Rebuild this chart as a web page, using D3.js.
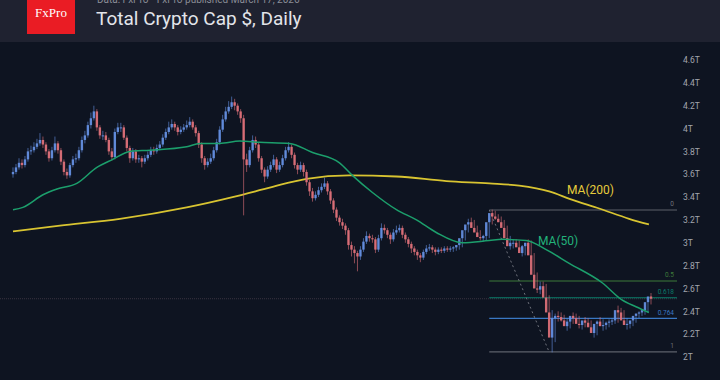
<!DOCTYPE html>
<html><head><meta charset="utf-8">
<script src="https://cdn.jsdelivr.net/npm/d3@7"></script>
<style>html,body{margin:0;padding:0;background:#0e1421;}svg{display:block;}</style>
</head><body><svg id="c" width="720" height="380"></svg>
<script>
// ---- data (T = trillion USD) ----
const firstOpen = 3.60;
const closes = [
3.62,3.66,3.70,3.68,3.73,3.80,3.81,3.84,3.87,3.90,3.86,3.80,3.74,3.81,3.87,3.81,3.71,3.62,3.59,3.68,3.73,3.74,3.81,3.90,3.94,4.03,4.09,4.15,4.01,3.94,3.94,3.90,3.80,3.75,3.97,4.01,
4.01,3.92,3.83,3.74,3.80,3.73,3.74,3.71,3.74,3.77,3.81,3.80,3.83,3.86,3.92,3.97,4.01,4.04,4.01,3.97,3.99,4.01,4.03,4.06,4.01,3.96,3.86,3.74,3.68,3.71,3.74,3.81,3.88,3.99,4.08,4.15,4.19,4.23,4.20,4.15,
4.09,3.73,3.68,3.81,3.90,3.86,3.74,3.64,3.58,3.64,3.68,3.73,3.64,3.68,3.74,3.81,3.84,3.77,3.68,3.64,3.68,3.62,3.53,3.45,3.39,3.42,3.46,3.49,3.52,3.45,3.37,3.29,3.22,3.18,3.15,3.11,2.98,
2.94,2.91,2.88,2.94,3.01,3.06,3.04,3.03,2.94,3.04,3.13,3.11,3.07,3.03,3.09,3.11,3.13,3.07,3.03,2.99,2.95,2.92,2.89,2.87,2.92,2.95,2.96,2.94,2.92,2.94,2.93,2.95,2.94,2.95,2.96,2.98,3.04,3.11,3.16,3.18,3.13,3.09,3.05,3.04,3.06,3.18,3.26,
3.23,3.21,3.18,3.13,3.04,2.97,3.00,3.00,2.96,2.91,2.97,3.00,2.89,2.72,2.60,2.59,2.62,2.52,2.39,2.17,2.34,2.36,2.35,2.32,2.27,2.31,2.36,2.34,2.29,2.28,2.32,2.30,2.26,2.21,2.29,2.31,2.27,2.28,2.30,2.31,2.32,2.41,2.39,2.32,2.28,2.29,2.32,2.36,2.38,2.39,2.41,2.48,2.53,2.51];
const highs = [
3.66,3.69,3.74,3.73,3.76,3.83,3.85,3.88,3.91,3.96,3.93,3.88,3.82,3.84,3.93,3.89,3.83,3.73,3.65,3.70,3.76,3.78,3.84,3.93,3.98,4.06,4.14,4.20,4.17,4.03,3.98,3.97,3.92,3.83,4.00,4.05,
4.05,4.03,3.94,3.85,3.83,3.82,3.77,3.76,3.77,3.80,3.84,3.84,3.86,3.89,3.95,4.00,4.06,4.08,4.06,4.03,4.02,4.04,4.07,4.10,4.08,4.03,3.98,3.88,3.76,3.74,3.78,3.84,3.91,4.02,4.12,4.19,4.24,4.28,4.26,4.22,
4.17,4.12,3.78,3.84,3.94,3.93,3.88,3.76,3.66,3.67,3.71,3.77,3.75,3.71,3.77,3.84,3.88,3.86,3.79,3.70,3.71,3.70,3.64,3.55,3.48,3.45,3.49,3.52,3.57,3.54,3.47,3.39,3.31,3.24,3.21,3.17,3.13,
3.01,2.97,2.93,2.97,3.04,3.10,3.08,3.07,3.05,3.07,3.17,3.16,3.13,3.09,3.12,3.15,3.16,3.15,3.09,3.05,3.01,2.97,2.94,2.91,2.94,2.98,2.99,2.98,2.96,2.96,2.96,2.97,2.97,2.97,2.97,2.98,3.01,3.07,3.14,3.21,3.22,3.20,3.15,3.11,3.07,3.09,3.21,3.29,
3.28,3.25,3.23,3.20,3.15,3.06,3.03,3.03,3.02,2.98,3.00,3.03,3.02,2.91,2.74,2.66,2.66,2.64,2.54,2.41,2.38,2.40,2.39,2.37,2.34,2.34,2.39,2.38,2.36,2.31,2.35,2.34,2.32,2.28,2.32,2.35,2.33,2.31,2.33,2.34,2.36,2.45,2.43,2.41,2.34,2.31,2.34,2.38,2.40,2.41,2.43,2.50,2.56,2.56];
const lows = [
3.57,3.60,3.64,3.65,3.66,3.71,3.77,3.79,3.82,3.85,3.83,3.77,3.71,3.72,3.79,3.78,3.68,3.59,3.56,3.57,3.66,3.70,3.72,3.79,3.87,3.92,4.00,4.07,3.98,3.91,3.90,3.88,3.77,3.72,3.73,3.95,
3.97,3.90,3.80,3.70,3.72,3.70,3.70,3.66,3.69,3.72,3.75,3.77,3.78,3.81,3.84,3.90,3.95,3.99,3.98,3.94,3.95,3.97,3.99,4.01,3.99,3.93,3.83,3.70,3.64,3.66,3.69,3.72,3.79,3.86,3.97,4.06,4.13,4.17,4.16,4.12,
4.05,3.24,3.62,3.66,3.79,3.83,3.71,3.61,3.53,3.56,3.62,3.66,3.61,3.62,3.66,3.72,3.79,3.74,3.65,3.60,3.62,3.58,3.50,3.41,3.36,3.37,3.40,3.44,3.47,3.42,3.34,3.26,3.19,3.15,3.12,3.07,2.94,
2.88,2.82,2.75,2.85,2.92,2.99,3.01,3.00,2.91,2.92,3.02,3.08,3.04,2.99,3.01,3.07,3.09,3.04,3.00,2.96,2.91,2.89,2.85,2.83,2.85,2.90,2.93,2.91,2.89,2.90,2.91,2.91,2.92,2.92,2.92,2.93,2.94,2.96,3.02,3.09,3.13,3.10,3.06,3.02,3.01,3.02,3.04,3.16,
3.20,3.18,3.15,3.10,3.01,2.94,2.95,2.97,2.93,2.88,2.89,2.95,2.86,2.69,2.56,2.55,2.56,2.49,2.35,2.04,2.13,2.31,2.31,2.28,2.23,2.25,2.29,2.31,2.25,2.24,2.26,2.27,2.22,2.17,2.19,2.27,2.23,2.24,2.26,2.28,2.29,2.30,2.36,2.29,2.24,2.25,2.27,2.30,2.34,2.36,2.37,2.39,2.46,2.49];

// moving averages, read at sampled candle indices
const ma50Idx = [0,3.3,10,14.7,21.3,28,33.3,39,45.7,58,62.3,69,75.7,82.3,92.3,100,109,113.3,120,128,134.7,141.3,150,159,163.3,171.3,178,185.7,196.7,203.3,208,212.3];
const ma50Val = [3.29,3.31,3.42,3.47,3.52,3.66,3.73,3.80,3.81,3.84,3.87,3.87,3.89,3.88,3.87,3.79,3.70,3.59,3.44,3.29,3.20,3.09,3.00,3.02,3.03,3.02,2.94,2.82,2.65,2.50,2.44,2.39];
const ma200Idx = [0,15.7,35.7,58,73.3,82.3,86.7,98,112.3,128,144.7,159,169,179,186.3,195.7,205.7,212.3];
const ma200Val = [3.10,3.15,3.21,3.31,3.40,3.46,3.49,3.56,3.59,3.58,3.54,3.52,3.50,3.45,3.38,3.30,3.21,3.16];

// Fibonacci retracement
const fibHigh = 3.287, fibHighIdx = 159;
const fibLow = 2.044, fibLowIdx = 179;
const fibLevels = [0, 0.5, 0.618, 0.764, 1];
const fibLabels = ["0", "0.5", "0.618", "0.764", "1"];
const fibColors = ["#5d606b", "#3d7a3a", "#0b7d6a", "#3a78c4", "#5d606b"];

const yTicks = [2,2.2,2.4,2.6,2.8,3,3.2,3.4,3.6,3.8,4,4.2,4.4,4.6];
const yTickLabels = ["2T","2.2T","2.4T","2.6T","2.8T","3T","3.2T","3.4T","3.6T","3.8T","4T","4.2T","4.4T","4.6T"];

const titleText = "Total Crypto Cap $, Daily";
const subText = "Data: FxPro \u2022 FxPro published March 17, 2026";

// ---- drawing ----
const svg = d3.select("#c");
const W = 720, H = 380;
svg.append("rect").attr("width", W).attr("height", H).attr("fill", "#0e1421");
svg.append("rect").attr("width", W).attr("height", 42).attr("fill", "#1f2230");

const x = d3.scaleLinear().domain([0, closes.length - 1]).range([13, 651]);
const y = d3.scaleLinear().domain([2, 4.6]).range([357, 60]);

// axis
const axis = d3.axisRight(y).tickValues(yTicks).tickFormat((d, i) => yTickLabels[i]).tickSize(0).tickPadding(0);
const gA = svg.append("g").attr("transform", "translate(683,0)").call(axis);
gA.select(".domain").remove();
gA.selectAll("text").attr("fill", "#a3a6af").attr("font-family", "Roboto, 'Noto Sans', sans-serif").attr("font-size", 8.5);

// last price dotted line
const last = closes[closes.length - 1];
svg.append("line").attr("x1", 0).attr("x2", 677).attr("y1", y(last)).attr("y2", y(last))
  .attr("stroke", "#3a3440").attr("stroke-width", 1).attr("stroke-dasharray", "1,1");

// fib lines
const fibX1 = x(fibHighIdx), fibX2 = 677;
fibLevels.forEach((lv, i) => {
  const v = fibHigh - lv * (fibHigh - fibLow);
  svg.append("line").attr("x1", fibX1).attr("x2", fibX2).attr("y1", y(v)).attr("y2", y(v))
    .attr("stroke", fibColors[i]).attr("stroke-width", 1.2);
  svg.append("text").attr("x", 674).attr("y", y(v) - 3.5).attr("text-anchor", "end")
    .attr("font-size", 6.5).attr("font-family", "Roboto, sans-serif")
    .attr("fill", i === 0 || i === 4 ? "#6f727c" : fibColors[i]).text(fibLabels[i]);
});
svg.append("line").attr("x1", x(fibHighIdx)).attr("y1", y(fibHigh)).attr("x2", x(fibLowIdx)).attr("y2", y(fibLow))
  .attr("stroke", "#6f727c").attr("stroke-width", 1).attr("stroke-dasharray", "2,3");

// MA lines
const lineGen = d3.line().x(d => x(d[0])).y(d => y(d[1])).curveMonotoneX;
svg.append("path").datum(ma200Idx.map((d, i) => [d, ma200Val[i]]))
  .attr("d", d3.line().x(d => x(d[0])).y(d => y(d[1])).curve(d3.curveMonotoneX))
  .attr("fill", "none").attr("stroke", "#d8c431").attr("stroke-width", 1.8);

// candles
const opens = closes.map((c, i) => i === 0 ? firstOpen : closes[i - 1]);
const up = "#6590e3", dn = "#e0717a";
const g = svg.append("g");
closes.forEach((c, i) => {
  const o = opens[i];
  const col = c >= o ? up : dn;
  const cx = x(i);
  g.append("line").attr("x1", cx).attr("x2", cx).attr("y1", y(highs[i])).attr("y2", y(lows[i]))
    .attr("stroke", col).attr("stroke-width", 1).attr("opacity", 0.6);
  const top = y(Math.max(o, c)), bot = y(Math.min(o, c));
  g.append("rect").attr("x", cx - 1.2).attr("width", 2.4).attr("y", top).attr("height", Math.max(1, bot - top))
    .attr("fill", col).attr("opacity", 0.92);
});

svg.append("path").datum(ma50Idx.map((d, i) => [d, ma50Val[i]]))
  .attr("d", d3.line().x(d => x(d[0])).y(d => y(d[1])).curve(d3.curveMonotoneX))
  .attr("fill", "none").attr("stroke", "#1c9f6c").attr("stroke-width", 1.5);

// MA labels
svg.append("text").attr("x", 567).attr("y", 194).attr("font-size", 12).attr("font-family", "Roboto, sans-serif")
  .attr("fill", "#e6cc3c").text("MA(200)");
svg.append("text").attr("x", 538).attr("y", 245).attr("font-size", 12).attr("font-family", "Roboto, sans-serif")
  .attr("fill", "#22b27a").text("MA(50)");

// header
svg.append("rect").attr("x", 27).attr("y", 0).attr("width", 48).attr("height", 34).attr("fill", "#ea1c24");
svg.append("text").attr("x", 51).attr("y", 17).attr("text-anchor", "middle").attr("font-size", 13)
  .attr("font-family", "'Liberation Serif', 'DejaVu Serif', serif").attr("fill", "#ffffff").text("FxPro");
svg.append("text").attr("x", 97).attr("y", 3).attr("font-size", 10).attr("font-family", "Roboto, sans-serif")
  .attr("fill", "#8a8d96").text(subText);
svg.append("text").attr("x", 96).attr("y", 25).attr("font-size", 19).attr("font-family", "Roboto, sans-serif")
  .attr("fill", "#e3e5ea").text(titleText);
</script></body></html>
